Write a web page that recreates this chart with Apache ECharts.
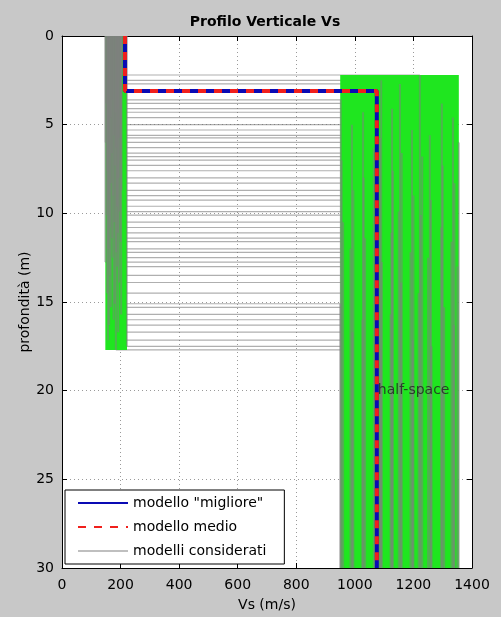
<!DOCTYPE html>
<html>
<head>
<meta charset="utf-8">
<script src="https://cdn.jsdelivr.net/npm/echarts@6/dist/echarts.min.js"></script>
<style>
  html, body { margin: 0; padding: 0; background: #c8c8c8; }
  #chart { width: 501px; height: 617px; }
</style>
</head>
<body>
<div id="chart"></div>
<script>
// spessore del primo strato (m) per ogni modello considerato
const thickness = [2.2, 2.5, 2.7, 3.6, 3.8, 4.1, 4.3, 4.6, 5.0, 5.3, 5.6, 5.75, 6.0, 6.3, 6.6, 6.8, 7.0,
  7.3, 7.6, 8.0, 8.3, 8.7, 9.0, 9.25, 9.6, 9.9, 10.1, 10.5, 10.8, 11.1, 11.4, 11.6, 12.0, 12.2, 12.5,
  12.75, 13.0, 13.5, 13.9, 14.5, 15.1, 15.3, 15.7, 16.0, 16.3, 16.7, 17.15, 17.5, 17.7];
// Vs del primo strato (m/s)
const vsLayer = [205, 198, 160, 172, 151, 190, 183, 166, 201, 157, 177, 194, 149, 186, 170, 162, 199,
  181, 155, 193, 168, 203, 175, 159, 188, 196, 152, 179, 164, 191, 171, 200, 158, 185, 173,
  148, 188, 163, 195, 154, 180, 167, 202, 176, 161, 192, 157, 222, 184];
// Vs del semispazio (m/s)
const vsHalf = [1222, 1090, 1154, 952, 1297, 1127, 1028, 1335, 990, 1195, 1256, 1086, 1355, 1065, 1160,
  1230, 955, 1300, 1130, 1030, 1340, 995, 1200, 1260, 1080, 1150, 1225, 960, 1295, 1125, 1035,
  1330, 985, 1190, 1250, 1092, 1350, 1070, 1158, 1218, 950, 1305, 1122, 1025, 1338, 992, 1198, 1262, 1088];

// modello "migliore" e modello medio: [Vs strato, spessore, Vs semispazio]
const bestModel = [215, 3.1, 1075];
const meanModel = [215, 3.1, 1075];

const maxDepth = 30;
const xTicks = [0, 1400, 200];   // min, max, passo
const yTicks = [0, 30, 5];
const halfSpaceLabel = { text: 'half-space', depth: 20 };

const FONT = 'DejaVu Sans';

const profile = (v1, h, v2) => [[v1, 0], [v1, h], [v2, h], [v2, maxDepth]];

const chart = echarts.init(document.getElementById('chart'));

const minV1 = Math.min(...vsLayer), maxV1 = Math.max(...vsLayer);
const minV2 = Math.min(...vsHalf), maxV2 = Math.max(...vsHalf);
const minH = Math.min(...thickness), maxH = Math.max(...thickness);

// ogni modello in tre pezzi: strato, interfaccia (sotto il verde), semispazio
const vertStyle = { color: 'rgba(128,128,128,0.5)', width: 2 };
const horzStyle = { color: 'rgba(110,110,110,0.55)', width: 1.2 };
const modelSeries = [];
thickness.forEach((h, i) => {
  const pts = profile(vsLayer[i], h, vsHalf[i]);
  [[pts[0], pts[1], 4, vertStyle], [pts[1], pts[2], 1, horzStyle], [pts[2], pts[3], 4, vertStyle]].forEach(seg => {
    modelSeries.push({
      name: 'modelli considerati',
      type: 'line',
      data: [seg[0], seg[1]],
      symbol: 'none',
      silent: true,
      z: seg[2],
      lineStyle: seg[3],
      itemStyle: { color: '#d4d8dc' }
    });
  });
});

const lbl = { color: '#000', fontSize: 14, fontFamily: FONT, formatter: v => String(v) };
const line = { show: true, onZero: false, lineStyle: { color: '#000' } };
const tick = { show: true, inside: true, length: 5, lineStyle: { color: '#000' } };
const grid = { show: true, lineStyle: { color: '#9a9a9a', type: [1, 3] } };

const option = {
  backgroundColor: '#c8c8c8',
  animation: false,
  title: {
    text: 'Profilo Verticale Vs',
    left: 260,
    textAlign: 'center',
    top: 10,
    textStyle: { fontSize: 14, fontWeight: 'bold', color: '#000', fontFamily: FONT }
  },
  grid: {
    left: 62, right: 29, top: 36, bottom: 49,
    outerBoundsMode: 'none', containLabel: false,
    show: true, backgroundColor: '#fff', borderWidth: 0
  },
  legend: {
    data: ['modello "migliore"', 'modello medio', 'modelli considerati'],
    orient: 'vertical',
    left: 65,
    top: 490,
    itemWidth: 50,
    itemHeight: 14,
    itemGap: 10,
    padding: [6, 18, 6, 12],
    backgroundColor: '#fff',
    borderColor: '#000',
    borderWidth: 1,
    borderRadius: 0,
    itemStyle: { opacity: 0 },
    textStyle: { fontSize: 14, color: '#000', fontFamily: FONT },
    selectedMode: false
  },
  xAxis: [
    {
      type: 'value', min: xTicks[0], max: xTicks[1], interval: xTicks[2],
      name: 'Vs (m/s)', nameLocation: 'middle', nameGap: 30,
      nameTextStyle: { fontSize: 14, color: '#000', fontFamily: FONT },
      axisLine: line, axisTick: tick,
      axisLabel: Object.assign({ margin: 10 }, lbl),
      splitLine: grid
    },
    {
      type: 'value', position: 'top', min: xTicks[0], max: xTicks[1], interval: xTicks[2],
      axisLine: line, axisTick: tick,
      axisLabel: { show: false }, splitLine: { show: false }
    }
  ],
  yAxis: [
    {
      type: 'value', inverse: true, min: yTicks[0], max: yTicks[1], interval: yTicks[2],
      name: 'profondità (m)', nameLocation: 'middle', nameGap: 30, nameMoveOverlap: false,
      nameTextStyle: { fontSize: 14, color: '#000', fontFamily: FONT },
      axisLine: line, axisTick: tick,
      axisLabel: Object.assign({ margin: 8 }, lbl),
      splitLine: grid
    },
    {
      type: 'value', position: 'right', inverse: true, min: yTicks[0], max: yTicks[1], interval: yTicks[2],
      axisLine: line, axisTick: tick,
      axisLabel: { show: false }, splitLine: { show: false }
    }
  ],
  series: [
    {
      // inviluppo dei modelli (aree verdi)
      type: 'line',
      data: [],
      silent: true,
      z: 2,
      markArea: {
        silent: true,
        z: 2,
        itemStyle: { color: '#1fe61f', opacity: 1 },
        data: [
          [{ coord: [minV1, 0] }, { coord: [maxV1, maxH] }],
          [{ coord: [minV2, minH] }, { coord: [maxV2, maxDepth] }]
        ]
      }
    },
    ...modelSeries,
    {
      name: 'modello "migliore"',
      type: 'line',
      data: profile(...bestModel),
      symbol: 'none',
      z: 5,
      color: '#0a0ab4',
      lineStyle: { color: '#0a0ab4', width: 4 }
    },
    {
      name: 'modello medio',
      type: 'line',
      data: profile(...meanModel),
      symbol: 'none',
      z: 6,
      color: '#f0201c',
      lineStyle: { color: '#f0201c', width: 4, type: [8, 8] }
    },
    {
      type: 'scatter',
      data: [[bestModel[2], halfSpaceLabel.depth]],
      symbolSize: 0,
      silent: true,
      z: 7,
      label: {
        show: true, position: 'right', distance: 1,
        formatter: halfSpaceLabel.text,
        fontSize: 14, color: '#222', fontFamily: FONT
      }
    }
  ]
};

chart.setOption(option);
</script>
</body>
</html>
